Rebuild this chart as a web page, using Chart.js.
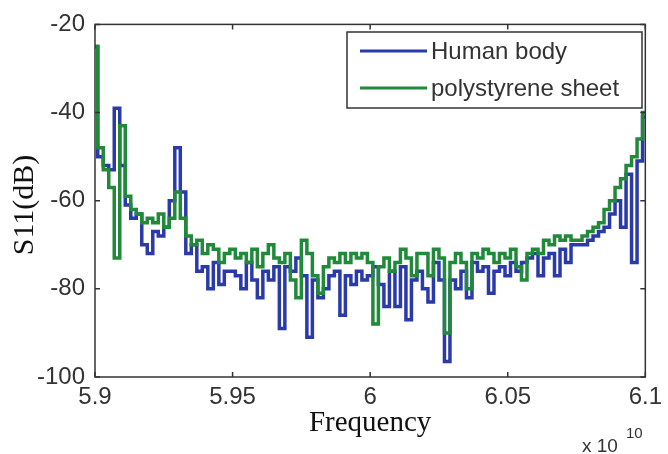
<!DOCTYPE html>
<html>
<head>
<meta charset="utf-8">
<script src="https://cdn.jsdelivr.net/npm/chart.js@4.4.1/dist/chart.umd.min.js"></script>
<style>
html, body { margin: 0; padding: 0; background: #fff; }
#wrap { position: relative; width: 668px; height: 454px; }
</style>
</head>
<body>
<div id="wrap"><canvas id="myChart" width="668" height="454"></canvas></div>
<script>
// S11 (dB), one value every 0.002 x 10^10 Hz from 5.9 to 6.1
var humanBody = [
    -25, -50, -52, -53, -39, -52, -61, -64, -63, -70,
    -72, -67, -68, -66, -60, -48, -58, -72, -70, -76,
    -75, -80, -74, -79, -76, -76, -77, -80, -74, -78,
    -82, -76, -78, -75, -89, -75, -76, -73, -77, -91,
    -78, -82, -80, -77, -76, -86, -77, -79, -76, -78,
    -77, -75, -79, -84, -76, -84, -75, -87, -78, -76,
    -80, -83, -74, -78, -96.5, -78, -80, -76, -82, -74,
    -76, -75, -81, -76, -75, -77, -74, -76, -74, -73,
    -72, -77, -73, -72, -77, -71, -74, -70, -70, -70,
    -69, -68, -67, -66, -63, -60, -66, -54, -74, -51,
    -41
];
var polystyrene = [
    -25, -48, -53, -57, -73, -43, -59, -62, -63, -65,
    -64, -65, -63, -66, -64, -58, -64, -68, -70, -69,
    -72, -70, -71, -74, -72, -71, -73, -72, -74, -71,
    -75, -72, -70, -73, -74, -72, -78, -82, -69, -72,
    -77, -81, -75, -73, -74, -72, -74, -72, -73, -72,
    -74, -88, -75, -73, -76, -74, -71, -73, -77, -72,
    -72, -77, -71, -73, -90, -74, -72, -74, -80, -72,
    -73, -71, -72, -74, -72, -73, -71, -75, -78, -72,
    -71, -72, -69, -70, -68, -69, -68, -69, -69, -68,
    -67, -66, -65, -62, -60, -57, -55, -52, -50, -46,
    -40
];
var seriesNames = ['Human body', 'polystyrene sheet'];
var xTicks = [5.9, 5.95, 6, 6.05, 6.1];
var yTicks = [-100, -80, -60, -40, -20];

// frequency sweep (x 10^10 Hz)
var freq = [];
for (var i = 0; i < humanBody.length; i++) {
    freq.push(5.9 + i * 0.002);
}

function toPoints(arr) {
    return arr.map(function (v, i) { return { x: freq[i], y: v }; });
}

var sansFont = "'Liberation Sans', Arial, sans-serif";
var serifFont = "'Liberation Serif', 'Times New Roman', serif";
var ink = '#333';

var matlabFrame = {
    id: 'matlabFrame',
    afterDraw: function (chart) {
        var ctx = chart.ctx;
        var a = chart.chartArea;
        var xs = chart.scales.x, ys = chart.scales.y;
        ctx.save();
        ctx.strokeStyle = ink;
        ctx.lineWidth = 1.5;
        ctx.strokeRect(a.left, a.top, a.right - a.left, a.bottom - a.top);

        // inward ticks on all four sides
        var tl = 5;
        ctx.beginPath();
        xTicks.forEach(function (v) {
            var px = xs.getPixelForValue(v);
            ctx.moveTo(px, a.bottom); ctx.lineTo(px, a.bottom - tl);
            ctx.moveTo(px, a.top); ctx.lineTo(px, a.top + tl);
        });
        yTicks.forEach(function (v) {
            var py = ys.getPixelForValue(v);
            ctx.moveTo(a.left, py); ctx.lineTo(a.left + tl, py);
            ctx.moveTo(a.right, py); ctx.lineTo(a.right - tl, py);
        });
        ctx.stroke();

        // legend box
        var lx = 347, ly = 32, lw = 295, lh = 76;
        ctx.fillStyle = '#fff';
        ctx.fillRect(lx, ly, lw, lh);
        ctx.lineWidth = 1.5;
        ctx.strokeRect(lx, ly, lw, lh);
        ctx.font = '24px ' + sansFont;
        ctx.textBaseline = 'middle';
        ctx.textAlign = 'left';
        var rows = [51, 88];
        chart.data.datasets.forEach(function (ds, k) {
            ctx.strokeStyle = ds.borderColor;
            ctx.lineWidth = 3;
            ctx.beginPath();
            ctx.moveTo(lx + 13, rows[k]);
            ctx.lineTo(lx + 80, rows[k]);
            ctx.stroke();
            ctx.fillStyle = ink;
            ctx.fillText(seriesNames[k], lx + 84, rows[k] + 1);
        });

        // axis titles
        ctx.fillStyle = '#111';
        ctx.font = '29px ' + serifFont;
        ctx.textAlign = 'center';
        ctx.textBaseline = 'alphabetic';
        ctx.fillText('Frequency', (a.left + a.right) / 2, 431);

        ctx.save();
        ctx.translate(33, 205);
        ctx.rotate(-Math.PI / 2);
        ctx.font = '30px ' + serifFont;
        ctx.fillText('S11(dB)', 0, 0);
        ctx.restore();

        // exponent
        ctx.fillStyle = ink;
        ctx.textAlign = 'left';
        ctx.font = '19px ' + sansFont;
        ctx.fillText('x 10', 582, 452);
        ctx.font = '15px ' + sansFont;
        ctx.fillText('10', 626, 438);
        ctx.restore();
    }
};

var ctx = document.getElementById('myChart');
var myChart = new Chart(ctx, {
    type: 'line',
    data: {
        datasets: [{
            label: seriesNames[0],
            data: toPoints(humanBody),
            borderColor: '#2b3aa9',
            borderWidth: 3.5,
            pointRadius: 0,
            stepped: 'middle',
            order: 1
        }, {
            label: seriesNames[1],
            data: toPoints(polystyrene),
            borderColor: '#21893a',
            borderWidth: 3.5,
            pointRadius: 0,
            stepped: 'middle',
            order: 0
        }]
    },
    options: {
        responsive: false,
        animation: false,
        layout: { padding: { top: 21, right: 18, left: 0, bottom: 0 } },
        plugins: {
            legend: { display: false },
            tooltip: { enabled: false }
        },
        scales: {
            x: {
                type: 'linear',
                min: 5.9,
                max: 6.1,
                afterBuildTicks: function (s) { s.ticks = xTicks.map(function (v) { return { value: v }; }); },
                afterFit: function (s) { s.height = 77; },
                grid: { display: false, drawTicks: false },
                border: { display: false },
                ticks: {
                    padding: 6,
                    maxRotation: 0,
                    autoSkip: false,
                    color: ink,
                    font: { size: 24, family: sansFont },
                    callback: function (v) { return String(parseFloat(v.toFixed(2))); }
                }
            },
            y: {
                min: -100,
                max: -20,
                afterBuildTicks: function (s) { s.ticks = yTicks.map(function (v) { return { value: v }; }); },
                afterFit: function (s) { s.width = 95; },
                grid: { display: false, drawTicks: false },
                border: { display: false },
                ticks: {
                    padding: 10,
                    color: ink,
                    font: { size: 24, family: sansFont }
                }
            }
        }
    },
    plugins: [matlabFrame]
});
</script>
</body>
</html>
